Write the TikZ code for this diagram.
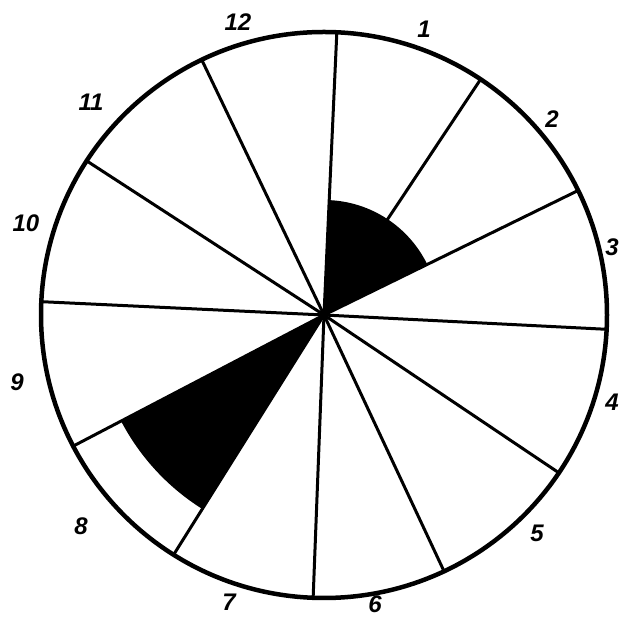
\documentclass[tikz,border=0pt]{standalone}
\usepackage{fontspec}
\setmainfont{Liberation Sans}
\usetikzlibrary{calc}
\begin{document}
\begin{tikzpicture}[x=1pt,y=1pt,
  spoke/.style={line width=3pt},
  rim/.style={line width=4.5pt},
  blk/.style={fill=black},
  lbl/.style={font=\fontsize{24}{24}\selectfont\bfseries\itshape, inner sep=0pt}]
\useasboundingbox (0,0) rectangle (622,618);
\coordinate (c) at (324,303);
% black sectors
\fill[blk] (c) -- ++(26.1:115) arc[start angle=26.1, end angle=87.4, radius=115] -- cycle;
\fill[blk] (c) -- ++(207.6:229) arc[start angle=207.6, end angle=237.9, radius=229] -- cycle;
% spokes
\foreach \a [count=\i] in {87.4,56.4,26.1,-2.9,-33.9,-64.9,-92.2,237.9,207.6,177.3,147.0,115.6}{
  \coordinate (e\i) at ($(c)+(\a:283)$);
  \draw[spoke] (c) -- (e\i);
}
% rim
\draw[rim] (c) circle[radius=283];
% labels
\node[lbl] (l12) at (238,596) {12};
\node[lbl] (l1) at (424,589) {1};
\node[lbl] (l2) at (552,499) {2};
\node[lbl] (l3) at (612,371) {3};
\node[lbl] (l4) at (612,216) {4};
\node[lbl] (l5) at (537,85) {5};
\node[lbl] (l6) at (375,14) {6};
\node[lbl] (l7) at (229,16) {7};
\node[lbl] (l8) at (81,92) {8};
\node[lbl] (l9) at (17,236) {9};
\node[lbl] (l10) at (26,395) {10};
\node[lbl] (l11) at (91,516) {11};
\end{tikzpicture}
\end{document}
